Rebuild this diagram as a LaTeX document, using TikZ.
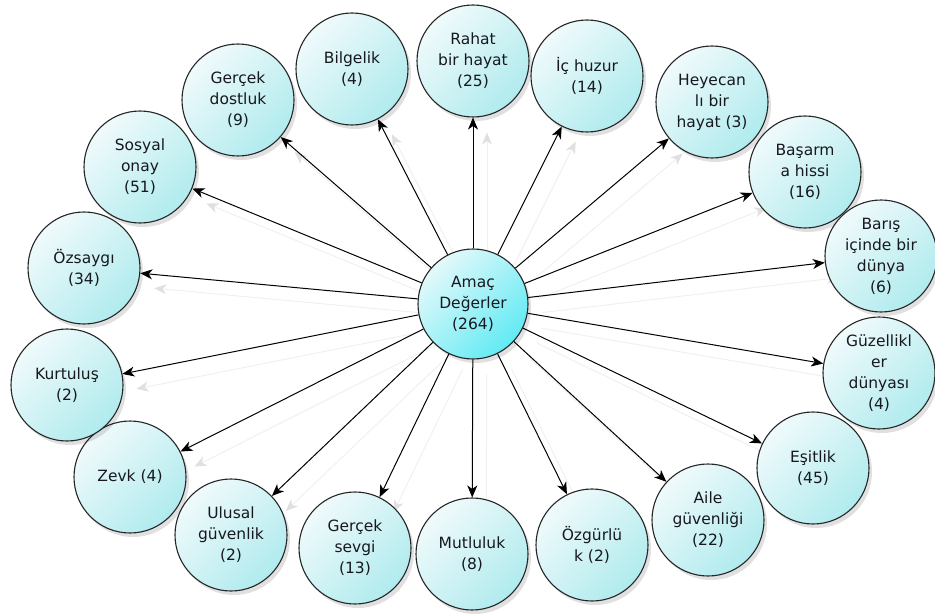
\documentclass[tikz,border=0pt]{standalone}
\usepackage{fontspec}
\setmainfont{DejaVu Sans}
\usetikzlibrary{arrows.meta,shadows}
\pgfdeclarelayer{bg}
\pgfsetlayers{bg,main}
\definecolor{bordc}{HTML}{262626}
\definecolor{lightc}{HTML}{F0FAFB}
\definecolor{darkc}{HTML}{B0EBEE}
\definecolor{clight}{HTML}{E4F9FB}
\definecolor{cdark}{HTML}{62EAF3}
\definecolor{txt}{HTML}{18181F}
\begin{document}
\begin{tikzpicture}[x=1pt,y=-1pt,
  bubble/.style={circle, draw=bordc, line width=1.1pt, minimum size=112pt, inner sep=0pt,
    align=center, text=txt, font=\fontsize{15.5}{21}\selectfont,
    top color=lightc, bottom color=darkc, shading angle=45,
    drop shadow={shadow xshift=3pt, shadow yshift=-4pt, opacity=0.12, fill=black}},
  hub/.style={bubble, minimum size=110pt, top color=clight, bottom color=cdark, shading angle=45},
  link/.style={draw=black, line width=1pt, -{Stealth[length=12pt,width=10pt,inset=3.5pt]}},
  ghost/.style={draw=black!6, line width=1pt, -{Stealth[length=12pt,width=10pt,inset=3.5pt, color=black!12]},
    transform canvas={shift={(14,15)}}}
]
\useasboundingbox (0,0) rectangle (935,615);
\node[hub] (c) at (473,304) {Amaç\\Değerler\\(264)};
\node[bubble] (rahat) at (473,61) {Rahat\\bir hayat\\(25)};
\node[bubble] (ic) at (587,76) {İç huzur\\(14)};
\node[bubble] (hey) at (712,102) {Heyecan\\lı bir\\hayat (3)};
\node[bubble] (bas) at (805,172) {Başarm\\a hissi\\(16)};
\node[bubble] (baris) at (881,256) {Barış\\içinde bir\\dünya\\(6)};
\node[bubble] (guz) at (879,373) {Güzellikl\\er\\dünyası\\(4)};
\node[bubble] (esit) at (813,468) {Eşitlik\\(45)};
\node[bubble] (aile) at (708,520) {Aile\\güvenliği\\(22)};
\node[bubble] (ozg) at (592,545) {Özgürlü\\k (2)};
\node[bubble] (mut) at (472,554) {Mutluluk\\(8)};
\node[bubble] (sevgi) at (355,548) {Gerçek\\sevgi\\(13)};
\node[bubble] (ulusal) at (231,535) {Ulusal\\güvenlik\\(2)};
\node[bubble] (zevk) at (130,477) {Zevk (4)};
\node[bubble] (kurt) at (67,385) {Kurtuluş\\(2)};
\node[bubble] (ozs) at (84,268) {Özsaygı\\(34)};
\node[bubble] (sosyal) at (140,167) {Sosyal\\onay\\(51)};
\node[bubble] (dost) at (238,100) {Gerçek\\dostluk\\(9)};
\node[bubble] (bilg) at (352,69) {Bilgelik\\(4)};
\begin{pgfonlayer}{bg}
\foreach \t in {rahat,ic,hey,bas,baris,guz,esit,aile,ozg,mut,sevgi,ulusal,zevk,kurt,ozs,sosyal,dost,bilg}{
  \draw[ghost] (c) -- (\t);
}
\end{pgfonlayer}
\foreach \t in {rahat,ic,hey,bas,baris,guz,esit,aile,ozg,mut,sevgi,ulusal,zevk,kurt,ozs,sosyal,dost,bilg}{
  \draw[link] (c) -- (\t);
}
\end{tikzpicture}
\end{document}
